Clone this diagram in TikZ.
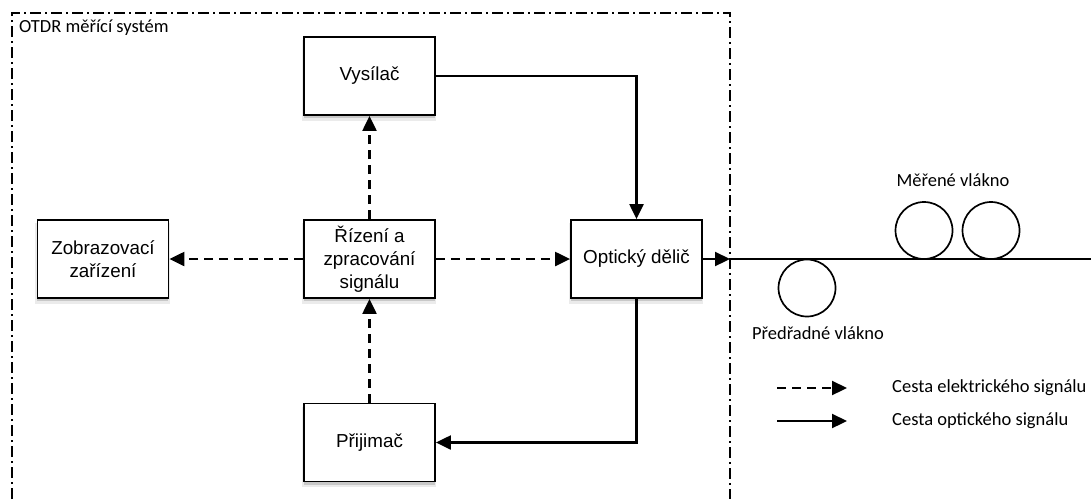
\documentclass[tikz,border=0pt]{standalone}
\usepackage{fontspec}
\setmainfont{Carlito}
\newfontfamily\arialf{Liberation Sans}
\usetikzlibrary{arrows.meta,shadows}
\begin{document}
\begin{tikzpicture}[x=1pt,y=-1pt,
  box/.style={draw, line width=1.8pt, fill=white, minimum width=131pt, minimum height=78pt,
    inner sep=0pt, align=center, font=\arialf\fontsize{18.8}{23}\selectfont,
    drop shadow={shadow xshift=-0.5pt, shadow yshift=-4.5pt, shadow scale=1.03, opacity=0.08, fill=black},
    drop shadow={shadow xshift=-0.5pt, shadow yshift=-3pt, opacity=0.15, fill=black}},
  lbl/.style={font=\fontsize{18.5}{22}\selectfont, inner sep=0pt},
  opt/.style={line width=2.2pt, -{Triangle[length=15pt,width=14pt]}},
  el/.style={opt, dash pattern=on 9pt off 6pt},
  fiber/.style={line width=2.2pt},
  coil/.style={circle, draw, line width=1.7pt, minimum size=57pt, inner sep=0pt}]
\useasboundingbox (0,0) rectangle (1091,499);
% system border
\draw[line width=1.4pt, dash pattern=on 11pt off 4pt on 2pt off 4pt]
  (12,499) -- (12,13) -- (730,13) -- (730,499);
\node[lbl, anchor=west] (title) at (19,28) {OTDR měřící systém};
% boxes
\node[box] (vys) at (369.5,76) {Vysílač};
\node[box] (riz) at (369.5,259) {Řízení a\\zpracování\\signálu};
\node[box] (pri) at (369.5,442.5) {Přijimač};
\node[box] (zob) at (103,259) {Zobrazovací\\zařízení};
\node[box] (opt) at (636.5,259) {Optický dělič};
% electrical paths
\draw[el] (riz.north) -- (vys.south);
\draw[el] (pri.north) -- (riz.south);
\draw[el] (riz.west) -- (zob.east);
\draw[el] (riz.east) -- (opt.west);
% optical paths
\draw[opt] (vys.east) -- (vys.east -| opt.north) -- (opt.north);
\draw[opt] (opt.south) |- (pri.east);
\coordinate (bd) at (730,259);
\coordinate (fend) at (1091,259);
\draw[opt] (opt.east) -- (bd);
\draw[fiber] (bd) -- (fend);
% fibre coils
\node[coil] (c1) at (807,288) {};
\node[coil] (c2) at (924,230.5) {};
\node[coil] (c3) at (991,230.5) {};
\node[lbl] (l1) at (953,180) {Měřené vlákno};
\node[lbl] (l2) at (818,333) {Předřadné vlákno};
% legend
\coordinate (la1) at (777,388);
\coordinate (lb1) at (847,388);
\coordinate (la2) at (777,421);
\coordinate (lb2) at (847,421);
\draw[el] (la1) -- (lb1);
\draw[opt] (la2) -- (lb2);
\node[lbl, anchor=west] (t1) at (892,388) {Cesta elektrického signálu};
\node[lbl, anchor=west] (t2) at (892,421) {Cesta optického signálu};
\end{tikzpicture}
\end{document}
